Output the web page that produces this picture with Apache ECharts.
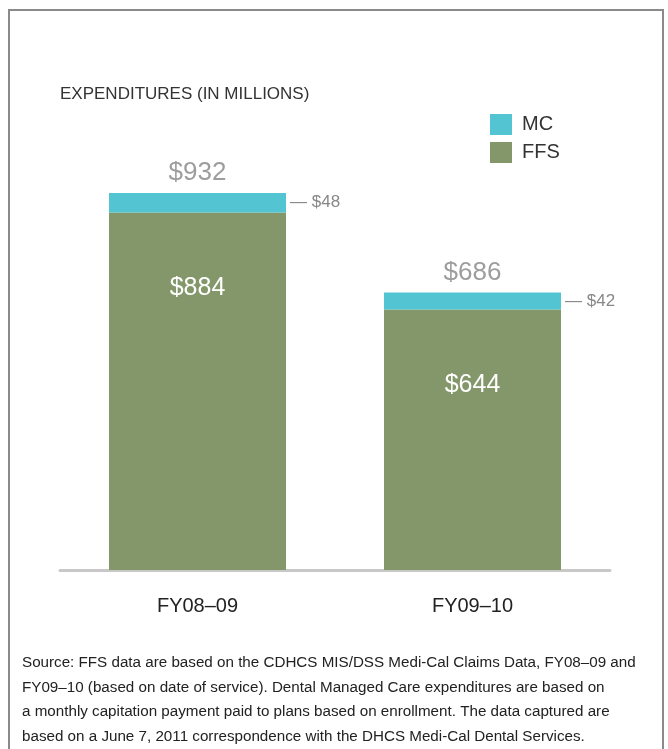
<!DOCTYPE html>
<html>
<head>
    <meta charset="UTF-8">
    <title>Dental expenditures FFS vs MC</title>
    <script src="https://cdn.jsdelivr.net/npm/echarts@6/dist/echarts.min.js"></script>
    <style>
        html, body { margin: 0; padding: 0; background: #fff; }
    </style>
</head>
<body>
<div id="main" style="width: 668px;height:749px;"></div>
<script type="text/javascript">
    // data
    const years = ['FY08\u201309', 'FY09\u201310'];
    const ffs = [884, 644];
    const mc = [48, 42];
    const totals = [932, 686];

    const sourceNote = [
        'Source: FFS data are based on the CDHCS MIS/DSS Medi-Cal Claims Data, FY08\u201309 and',
        'FY09\u201310 (based on date of service). Dental Managed Care expenditures are based on',
        'a monthly capitation payment paid to plans based on enrollment. The data captured are',
        'based on a June 7, 2011 correspondence with the DHCS Medi-Cal Dental Services.'
    ];

    const plain = '"Liberation Sans", Arial, sans-serif';

    var myChart = echarts.init(document.getElementById('main'));

    let option = {
        animation: false,
        backgroundColor: '#fff',
        title: {
            text: 'EXPENDITURES (IN MILLIONS)',
            left: 55,
            top: 81,
            textStyle: {
                fontFamily: plain,
                fontWeight: 'normal',
                fontSize: 17,
                color: '#333'
            }
        },
        legend: {
            orient: 'vertical',
            left: 485,
            top: 109,
            itemWidth: 22,
            itemHeight: 21,
            itemGap: 7,
            icon: 'rect',
            data: ['MC', 'FFS'],
            textStyle: {
                fontFamily: plain,
                fontSize: 20,
                color: '#333',
                padding: [0, 0, 0, 5]
            }
        },
        grid: {
            left: 60,
            right: 58,
            top: 165.5,
            bottom: 179,
            containLabel: false
        },
        xAxis: {
            type: 'category',
            data: years,
            axisLine: { lineStyle: { color: '#c8c8c8', width: 3 } },
            axisTick: { show: false },
            axisLabel: {
                fontFamily: plain,
                fontSize: 20,
                color: '#222',
                margin: 26
            }
        },
        yAxis: {
            type: 'value',
            min: 0,
            max: 1000,
            show: false,
            splitLine: { show: false }
        },
        series: [
            {
                name: 'FFS',
                type: 'bar',
                stack: 'exp',
                barWidth: 177,
                itemStyle: { color: '#84976a' },
                data: ffs,
                label: {
                    show: true,
                    position: ['50%', 76],
                    align: 'center',
                    verticalAlign: 'middle',
                    formatter: p => '$' + p.value,
                    fontFamily: plain,
                    fontSize: 25,
                    color: '#fff'
                }
            },
            {
                name: 'MC',
                type: 'bar',
                stack: 'exp',
                barWidth: 177,
                itemStyle: { color: '#53c4d1' },
                data: mc,
                label: {
                    show: true,
                    position: 'right',
                    distance: 4,
                    formatter: p => '\u2014 $' + p.value,
                    fontFamily: plain,
                    fontSize: 17,
                    color: '#888'
                }
            },
            {
                name: 'Total',
                type: 'scatter',
                symbolSize: 0,
                data: totals,
                silent: true,
                label: {
                    show: true,
                    position: 'top',
                    distance: 7,
                    formatter: p => '$' + p.value,
                    fontFamily: plain,
                    fontSize: 26,
                    color: '#848484'
                }
            }
        ],
        graphic: [
            {
                type: 'rect',
                shape: { x: 9, y: 10, width: 654, height: 760 },
                style: { fill: 'none', stroke: '#8a8a8a', lineWidth: 2 },
                silent: true
            },
            {
                type: 'text',
                left: 22,
                top: 651,
                style: {
                    text: sourceNote.join('\n'),
                    fontFamily: plain,
                    fontSize: 15.2,
                    lineHeight: 24.5,
                    fill: '#222'
                }
            }
        ]
    };

    myChart.setOption(option);
</script>
</body>
</html>
